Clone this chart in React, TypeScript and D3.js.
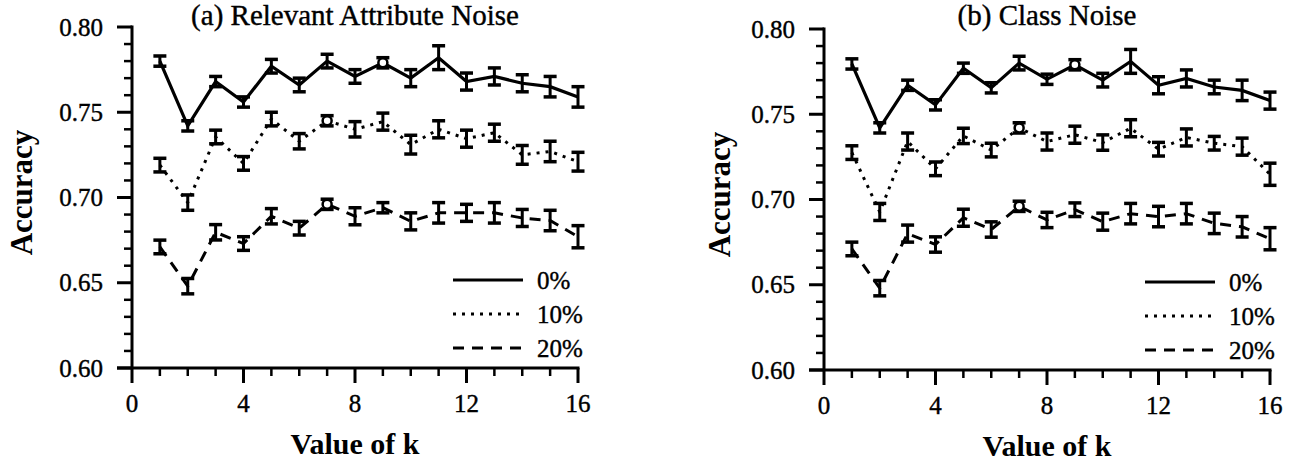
import React from "react";
import * as d3 from "d3";

// ---------- data ----------
const kValues = [1, 2, 3, 4, 5, 6, 7, 8, 9, 10, 11, 12, 13, 14, 15, 16];
const xMajorTicks = [0, 4, 8, 12, 16];
const xMinorTicks = [1, 2, 3, 5, 6, 7, 9, 10, 11, 13, 14, 15];
const yMajorTicks = [0.6, 0.65, 0.7, 0.75, 0.8];
const yTickLabels = ["0.60", "0.65", "0.70", "0.75", "0.80"];
const yMinorTicks = [0.61, 0.62, 0.63, 0.64, 0.66, 0.67, 0.68, 0.69, 0.71, 0.72, 0.73, 0.74, 0.76, 0.77, 0.78, 0.79];
const legendLabels = ["0%", "10%", "20%"];
const titles = ["(a) Relevant Attribute Noise", "(b) Class Noise"];
const xLabel = "Value of k";
const yLabel = "Accuracy";

// (a) Relevant attribute noise
const attr0 = [0.780, 0.742, 0.768, 0.756, 0.777, 0.766, 0.780, 0.771, 0.779, 0.770, 0.782, 0.768, 0.771, 0.767, 0.765, 0.759];
const attr0Err = [0.003, 0.003, 0.003, 0.003, 0.004, 0.004, 0.004, 0.004, 0.003, 0.005, 0.007, 0.005, 0.005, 0.005, 0.006, 0.006];
const attr10 = [0.719, 0.697, 0.7355, 0.720, 0.746, 0.733, 0.745, 0.740, 0.7445, 0.731, 0.740, 0.7345, 0.738, 0.725, 0.727, 0.721];
const attr10Err = [0.004, 0.0045, 0.004, 0.004, 0.004, 0.0045, 0.003, 0.0045, 0.005, 0.0055, 0.005, 0.005, 0.005, 0.0055, 0.006, 0.0055];
const attr20 = [0.671, 0.648, 0.6796, 0.673, 0.689, 0.682, 0.696, 0.689, 0.694, 0.686, 0.691, 0.691, 0.691, 0.688, 0.6865, 0.677];
const attr20Err = [0.004, 0.0045, 0.0045, 0.004, 0.0045, 0.004, 0.003, 0.005, 0.003, 0.005, 0.006, 0.005, 0.006, 0.005, 0.006, 0.0065];

// (b) Class noise
const class0 = [0.7795, 0.742, 0.767, 0.7555, 0.777, 0.7655, 0.780, 0.7705, 0.779, 0.770, 0.781, 0.767, 0.771, 0.766, 0.764, 0.758];
const class0Err = [0.003, 0.003, 0.003, 0.003, 0.003, 0.003, 0.004, 0.003, 0.003, 0.004, 0.007, 0.005, 0.005, 0.004, 0.006, 0.005];
const class10 = [0.7275, 0.6927, 0.734, 0.718, 0.7373, 0.729, 0.742, 0.734, 0.738, 0.7334, 0.7418, 0.7295, 0.7364, 0.733, 0.731, 0.7148];
const class10Err = [0.004, 0.005, 0.005, 0.004, 0.0045, 0.004, 0.003, 0.005, 0.005, 0.0045, 0.005, 0.004, 0.005, 0.004, 0.005, 0.0065];
const class20 = [0.671, 0.648, 0.680, 0.6736, 0.6893, 0.6824, 0.696, 0.688, 0.694, 0.687, 0.6917, 0.690, 0.6917, 0.686, 0.684, 0.677];
const class20Err = [0.004, 0.0045, 0.005, 0.0045, 0.005, 0.0045, 0.003, 0.0045, 0.004, 0.005, 0.006, 0.006, 0.006, 0.006, 0.006, 0.0065];

// index (into kValues) of the point drawn with an open circle, per series
const circledIndex = [8, 6, 6];

// ---------- layout ----------
const W = 1298;
const H = 464;
const FONT = "Liberation Serif, DejaVu Serif, serif";

const panels = [
  { x0: 132, x1: 578, yTop: 27, yBot: 368, ylabX: 21, means: [attr0, attr10, attr20], errs: [attr0Err, attr10Err, attr20Err], title: titles[0] },
  { x0: 824, x1: 1270, yTop: 29, yBot: 370, ylabX: 719, means: [class0, class10, class20], errs: [class0Err, class10Err, class20Err], title: titles[1] },
];

const dashes = [undefined, "3 6", "11 8"];

const txt = (size: number, bold = false): React.CSSProperties => ({
  fontFamily: FONT,
  fontSize: size,
  fontWeight: bold ? 700 : 400,
});

function Panel({ p }: { p: typeof panels[number] }) {
  const x = d3.scaleLinear().domain([0, 16]).range([p.x0, p.x1]);
  const y = d3.scaleLinear().domain([0.6, 0.8]).range([p.yBot, p.yTop]);
  const cx = (p.x0 + p.x1) / 2;
  const line = d3
    .line<number>()
    .x((_, i) => x(kValues[i]))
    .y((d) => y(d));
  const capW = 6.5;
  return (
    <g>
      <text x={cx} y={25} textAnchor="middle" style={txt(29)} stroke="#000" strokeWidth={0.4}>
        {p.title}
      </text>
      <line x1={p.x0} x2={p.x0} y1={y(0.8) - 1.5} y2={p.yBot} stroke="#000" strokeWidth={3} />
      <line x1={p.x0 - 15} x2={p.x1 + 1.5} y1={p.yBot} y2={p.yBot} stroke="#000" strokeWidth={3} />
      {yMajorTicks.map((t, i) => (
        <g key={"ym" + i}>
          <line x1={p.x0 - 15} x2={p.x0} y1={y(t)} y2={y(t)} stroke="#000" strokeWidth={3} />
          <text x={p.x0 - 29} y={y(t)} textAnchor="end" dominantBaseline="central" style={txt(25)} stroke="#000" strokeWidth={0.4}>
            {yTickLabels[i]}
          </text>
        </g>
      ))}
      {yMinorTicks.map((t, i) => (
        <line key={"yn" + i} x1={p.x0 - 8} x2={p.x0 + 1} y1={y(t)} y2={y(t)} stroke="#000" strokeWidth={2.5} />
      ))}
      {xMajorTicks.map((t, i) => (
        <g key={"xm" + i}>
          <line x1={x(t)} x2={x(t)} y1={p.yBot} y2={p.yBot + 15} stroke="#000" strokeWidth={3} />
          <text x={x(t)} y={p.yBot + 44} textAnchor="middle" style={txt(25)} stroke="#000" strokeWidth={0.4}>
            {t}
          </text>
        </g>
      ))}
      {xMinorTicks.map((t, i) => (
        <line key={"xn" + i} x1={x(t)} x2={x(t)} y1={p.yBot} y2={p.yBot + 8} stroke="#000" strokeWidth={2.5} />
      ))}
      <text x={cx} y={p.yBot + 86} textAnchor="middle" style={txt(30, true)}>
        {xLabel}
      </text>
      <text
        transform={`translate(${p.ylabX},${(p.yTop + p.yBot) / 2 - 5}) rotate(-90)`}
        textAnchor="middle"
        dominantBaseline="central"
        style={txt(31, true)}
      >
        {yLabel}
      </text>
      {p.means.map((m, si) => (
        <g key={"s" + si}>
          <path d={line(m) || ""} fill="none" stroke="#000" strokeWidth={si === 0 ? 3.2 : 3} strokeDasharray={dashes[si]} />
          {m.map((v, i) => {
            const e = p.errs[si][i];
            const px = x(kValues[i]);
            return (
              <g key={i}>
                <line x1={px} x2={px} y1={y(v + e)} y2={y(v - e)} stroke="#000" strokeWidth={3} />
                <line x1={px - capW} x2={px + capW} y1={y(v + e)} y2={y(v + e)} stroke="#000" strokeWidth={3.5} />
                <line x1={px - capW} x2={px + capW} y1={y(v - e)} y2={y(v - e)} stroke="#000" strokeWidth={3.5} />
              </g>
            );
          })}
          <circle cx={x(kValues[circledIndex[si]])} cy={y(m[circledIndex[si]])} r={4.5} fill="#fff" stroke="#000" strokeWidth={2.5} />
        </g>
      ))}
      {legendLabels.map((lab, i) => {
        const ly = p.yBot + [-88, -54, -20][i];
        return (
          <g key={"lg" + i}>
            <line x1={p.x1 - 125} x2={p.x1 - 55} y1={ly} y2={ly} stroke="#000" strokeWidth={3} strokeDasharray={dashes[i]} />
            <text x={p.x1 - 41} y={ly} dominantBaseline="central" style={txt(25)} stroke="#000" strokeWidth={0.4}>
              {lab}
            </text>
          </g>
        );
      })}
    </g>
  );
}

export default function App() {
  return (
    <svg
      width={W}
      height={H}
      viewBox={`0 0 ${W} ${H}`}
      style={{ position: "absolute", left: 0, top: 0, background: "#fff" }}
    >
      <rect x={0} y={0} width={W} height={H} fill="#fff" />
      {panels.map((p, i) => (
        <Panel key={i} p={p} />
      ))}
    </svg>
  );
}
